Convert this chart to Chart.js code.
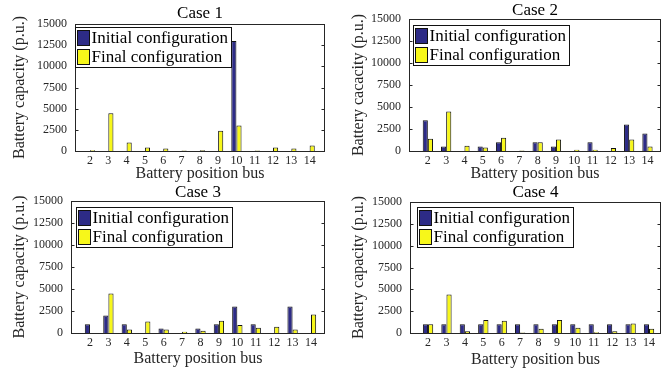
<!DOCTYPE html>
<html><head><meta charset="utf-8">
<script src="https://cdn.jsdelivr.net/npm/chart.js@4"></script>
<style>
html,body{margin:0;padding:0;background:#fff;}
body{width:662px;height:371px;position:relative;overflow:hidden;}
canvas{position:absolute;}
</style></head><body>
<canvas id="c1" width="331" height="185" style="left:0;top:0"></canvas>
<canvas id="c2" width="331" height="185" style="left:331px;top:0"></canvas>
<canvas id="c3" width="331" height="193" style="left:0;top:178px"></canvas>
<canvas id="c4" width="331" height="193" style="left:331px;top:178px"></canvas>
<script>
// ---- data ----
const buses = [2, 3, 4, 5, 6, 7, 8, 9, 10, 11, 12, 13, 14];
const seriesNames = ['Initial configuration', 'Final configuration'];
const caseTitles = ['Case 1', 'Case 2', 'Case 3', 'Case 4'];
const yLabels = ['Battery capacity (p.u.)', 'Battery cacacity (p.u.)', 'Battery capacity (p.u.)', 'Battery capacity (p.u.)'];
const xLabel = 'Battery position bus';
const yTicks = [0, 2500, 5000, 7500, 10000, 12500, 15000];

const case1Initial = [0, 0, 0, 0, 0, 0, 0, 0, 13000, 0, 0, 0, 0];
const case1Final   = [100, 4450, 1000, 400, 300, 50, 80, 2400, 3000, 50, 400, 300, 650];
const case2Initial = [3500, 500, 0, 500, 1000, 0, 1000, 500, 0, 1000, 0, 3000, 2000];
const case2Final   = [1400, 4500, 600, 400, 1500, 50, 1000, 1300, 150, 150, 350, 1300, 500];
const case3Initial = [1000, 2000, 1000, 0, 500, 0, 500, 1000, 3000, 1000, 0, 3000, 0];
const case3Final   = [0, 4500, 400, 1300, 400, 150, 250, 1400, 900, 600, 700, 400, 2100];
const case4Initial = [1000, 1000, 1000, 1000, 1000, 1000, 1000, 1000, 1000, 1000, 1000, 1000, 1000];
const case4Final   = [1000, 4400, 200, 1500, 1400, 50, 500, 1500, 600, 100, 200, 1100, 500];

const initialSeries = [case1Initial, case2Initial, case3Initial, case4Initial];
const finalSeries = [case1Final, case2Final, case3Final, case4Final];

// ---- styling / layout ----
const COL_INIT = '#2d2b86';
const COL_FIN = '#f7f71a';
const AXIS = '#262626';
const FONT = "'Liberation Serif', 'DejaVu Serif', serif";
Chart.defaults.font.family = FONT;
Chart.defaults.color = AXIS;

const geo = [
  {id:'c1', cx:0,   cy:0,   w:331, h:185, l:75,  r:325, t:24,  b:151, titleY:13.5, xMin:1.18, xMax:14.84, leg:[0,3], ytX:19.5, xtY:173.5},
  {id:'c2', cx:331, cy:0,   w:331, h:185, l:409, r:661, t:19,  b:151, titleY:11,   xMin:0.97, xMax:14.74, leg:[4,6], ytX:358.5, xtY:174},
  {id:'c3', cx:0,   cy:178, w:331, h:193, l:71,  r:325, t:201, b:333, titleY:192.5,xMin:0.97, xMax:14.76, leg:[5,6], ytX:19.5, xtY:359},
  {id:'c4', cx:331, cy:178, w:331, h:193, l:410, r:661, t:202, b:333, titleY:192.5,xMin:1.02, xMax:14.65, leg:[7,5], ytX:358.5, xtY:360}
];

// box with inward ticks on both y sides, plus y tick labels placed by the y scale
const framePlugin = {
  id: 'frame',
  afterDraw(chart) {
    const {ctx, chartArea: a, scales: {y}} = chart;
    ctx.save();
    ctx.strokeStyle = AXIS;
    ctx.lineWidth = 1;
    const L = Math.round(a.left) + 0.5, R = Math.round(a.right) - 0.5;
    const T = Math.round(a.top) + 0.5, B = Math.round(a.bottom) + 0.5;
    ctx.strokeRect(L, T, R - L, B - T);
    ctx.beginPath();
    yTicks.forEach(v => {
      const py = Math.round(y.getPixelForValue(v)) + 0.5;
      ctx.moveTo(L, py); ctx.lineTo(L + 3, py);
      ctx.moveTo(R, py); ctx.lineTo(R - 3, py);
    });
    ctx.stroke();
    ctx.fillStyle = AXIS;
    ctx.font = '12px ' + FONT;
    ctx.textAlign = 'right';
    ctx.textBaseline = 'middle';
    yTicks.forEach(v => {
      ctx.fillText(String(v), a.left - 8, y.getPixelForValue(v));
    });
    ctx.restore();
  }
};

const boxLegendPlugin = {
  id: 'boxLegend',
  afterDraw(chart, args, opts) {
    const {ctx, chartArea: a} = chart;
    const ds = chart.data.datasets;
    ctx.save();
    ctx.font = '17px ' + FONT;
    let tw = 0;
    ds.forEach(d => { tw = Math.max(tw, ctx.measureText(d.label).width); });
    const x0 = Math.round(a.left + opts.dx) + 0.5;
    const y0 = Math.round(a.top + opts.dy) + 0.5;
    const bw = Math.round(16 + tw + 4), bh = 40;
    ctx.fillStyle = '#fff';
    ctx.fillRect(x0, y0, bw, bh);
    ctx.strokeStyle = '#111';
    ctx.lineWidth = 1;
    ctx.strokeRect(x0, y0, bw, bh);
    ds.forEach((d, i) => {
      const sy = y0 + 3 + i * 19;
      ctx.fillStyle = d.backgroundColor;
      ctx.fillRect(x0 + 2, sy, 12, 15);
      ctx.strokeStyle = '#111';
      ctx.strokeRect(x0 + 2, sy, 12, 15);
      ctx.fillStyle = '#000';
      ctx.textBaseline = 'middle';
      ctx.textAlign = 'left';
      ctx.fillText(d.label, x0 + 16, sy + 8);
    });
    ctx.restore();
  }
};

geo.forEach((g, k) => {
  const padL = 2, padB = 2;
  const tTop = g.titleY - g.cy - 8.5;
  const tBot = (g.t - g.cy) - tTop - 17;
  new Chart(document.getElementById(g.id), {
    type: 'bar',
    data: {
      datasets: [
        {label: seriesNames[0], data: buses.map((b, i) => ({x: b, y: initialSeries[k][i]})),
         backgroundColor: COL_INIT, borderColor: '#111', borderWidth: 1},
        {label: seriesNames[1], data: buses.map((b, i) => ({x: b, y: finalSeries[k][i]})),
         backgroundColor: COL_FIN, borderColor: '#111', borderWidth: 1}
      ]
    },
    plugins: [framePlugin, boxLegendPlugin],
    options: {
      responsive: false,
      animation: false,
      devicePixelRatio: 1,
      categoryPercentage: 0.56,
      barPercentage: 1.0,
      layout: {padding: {left: padL, right: g.w - (g.r - g.cx), top: 0, bottom: padB}},
      plugins: {
        legend: {display: false},
        tooltip: {enabled: false},
        title: {display: true, fullSize: false, text: caseTitles[k], color: '#000',
                font: {size: 17, weight: 'normal', lineHeight: 1},
                padding: {top: tTop, bottom: tBot}},
        boxLegend: {dx: g.leg[0], dy: g.leg[1]}
      },
      scales: {
        x: {
          type: 'linear', offset: false, min: g.xMin, max: g.xMax,
          grid: {display: false, drawTicks: false},
          border: {display: false},
          afterBuildTicks: s => { s.ticks = buses.map(v => ({value: v})); },
          afterFit: s => { s.height = (g.cy + g.h - padB) - g.b; },
          ticks: {autoSkip: false, maxRotation: 0, padding: 3, color: AXIS,
                  font: {size: 12}, callback: v => String(v)},
          title: {display: true, text: xLabel, color: AXIS,
                  font: {size: 16, lineHeight: 1},
                  padding: {top: 0, bottom: (g.cy + g.h - padB) - 8 - g.xtY}}
        },
        y: {
          min: 0, max: 15000,
          grid: {display: false, drawTicks: false},
          border: {display: false},
          afterBuildTicks: s => { s.ticks = yTicks.map(v => ({value: v})); },
          afterFit: s => { s.width = (g.l - g.cx) - padL; },
          ticks: {display: false},
          title: {display: true, text: yLabels[k], color: AXIS,
                  font: {size: 16, lineHeight: 1},
                  padding: {top: g.ytX - g.cx - padL - 8, bottom: 0}}
        }
      }
    }
  });
});
</script>
</body></html>
